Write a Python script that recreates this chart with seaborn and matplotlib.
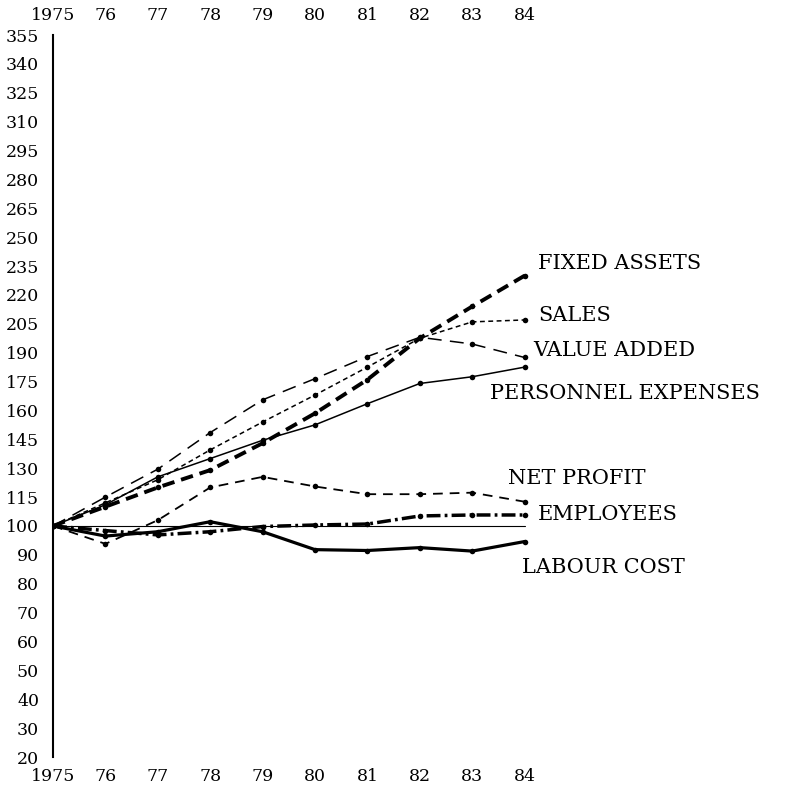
import numpy as np
import pandas as pd
import matplotlib
matplotlib.use("Agg")
import matplotlib.pyplot as plt
import seaborn as sns

sns.set_style("white")
plt.rcParams["font.family"] = ["DejaVu Serif"]
plt.rcParams["lines.scale_dashes"] = False
plt.rcParams["text.color"] = "black"
plt.rcParams["xtick.color"] = "black"
plt.rcParams["ytick.color"] = "black"

years = [1975, 1976, 1977, 1978, 1979, 1980, 1981, 1982, 1983, 1984]
year_labels = ["1975", "76", "77", "78", "79", "80", "81", "82", "83", "84"]

fixed_assets = [100, 110, 120, 129, 143, 158.5, 176, 197.5, 214, 230]
sales = [100, 112, 124, 139.5, 154, 168, 182.5, 197.5, 206, 207]
value_added = [100, 115, 129.5, 148.5, 165.5, 176.5, 188, 198, 194.5, 187.5]
personnel = [100, 111, 125.5, 135, 144.5, 152.5, 163.5, 174, 177.5, 182.5]
net_profit = [100, 93.8, 103, 120, 125.5, 120.5, 116.5, 116.5, 117.3, 112.6]
employees = [100, 98.4, 96.9, 98, 99.8, 100.5, 101, 105.2, 105.7, 105.7]
labour_cost = [100, 96.5, 98, 102.2, 98, 91.8, 91.5, 92.5, 91.3, 94.6]

series_names = ["FIXED ASSETS", "SALES", "VALUE ADDED", "PERSONNEL EXPENSES",
                "NET PROFIT", "EMPLOYEES", "LABOUR COST"]
series_values = [fixed_assets, sales, value_added, personnel,
                 net_profit, employees, labour_cost]

# label anchor (x in years, y in index units)
label_x = [1984.26, 1984.26, 1984.16, 1983.34, 1983.68, 1984.26, 1983.95]
label_y = [236.5, 209.5, 191.3, 169, 124.9, 105.7, 85.5]

y_ticks = [20, 30, 40, 50, 60, 70, 80, 90, 100, 115, 130, 145, 160, 175, 190,
           205, 220, 235, 250, 265, 280, 295, 310, 325, 340, 355]

styles = {
    "FIXED ASSETS": dict(lw=2.8, dashes=(9, 5)),
    "SALES": dict(lw=1.1, dashes=(3.5, 2.5)),
    "VALUE ADDED": dict(lw=1.1, dashes=(10, 6)),
    "PERSONNEL EXPENSES": dict(lw=1.1, linestyle="-"),
    "NET PROFIT": dict(lw=1.3, dashes=(7, 5)),
    "EMPLOYEES": dict(lw=2.5, dashes=(10, 3, 2, 3)),
    "LABOUR COST": dict(lw=2.3, linestyle="-"),
}


def fwd(v):
    v = np.asarray(v, dtype=float)
    return np.where(v >= 100, (v - 100) / 15.0, (v - 100) / 10.0)


def inv(u):
    u = np.asarray(u, dtype=float)
    return np.where(u >= 0, 100 + 15.0 * u, 100 + 10.0 * u)


fig = plt.figure(figsize=(8.01, 7.88), dpi=100)
ax = fig.add_axes([53 / 801, 1 - 757 / 788, (790 - 53) / 801, (757 - 35) / 788])
ax.set_yscale("function", functions=(fwd, inv))

# reference line at 100
ref = pd.DataFrame({"year": [years[0], years[-1]], "value": [100, 100]})
sns.lineplot(data=ref, x="year", y="value", ax=ax, color="black", lw=0.8)

for name, vals in zip(series_names, series_values):
    df = pd.DataFrame({"year": years, "value": vals})
    sns.lineplot(data=df, x="year", y="value", ax=ax, color="black",
                 marker="o", markersize=4, markeredgewidth=0,
                 **styles[name])

for name, lx, ly in zip(series_names, label_x, label_y):
    ax.text(lx, ly, name, fontsize=15, va="center", ha="left",
            color="black", clip_on=False)

ax.set_xlim(1975, 1975 + (790 - 53) / 52.4)
ax.set_ylim(20, 355)
ax.set_yticks(y_ticks)
ax.set_yticklabels([str(t) for t in y_ticks])
ax.set_xticks(years)
ax.set_xticklabels(year_labels)
ax.minorticks_off()
ax.tick_params(axis="y", length=0, pad=10, labelsize=12.5)
ax.tick_params(axis="x", length=0, pad=8, labelsize=12.5,
               top=True, labeltop=True, bottom=True, labelbottom=True)
ax.set_xlabel("")
ax.set_ylabel("")
for side in ["top", "right", "bottom"]:
    ax.spines[side].set_visible(False)
ax.spines["left"].set_color("black")
ax.spines["left"].set_linewidth(1.5)
ax.grid(False)

fig.savefig("out.png", dpi=100, facecolor="white")
